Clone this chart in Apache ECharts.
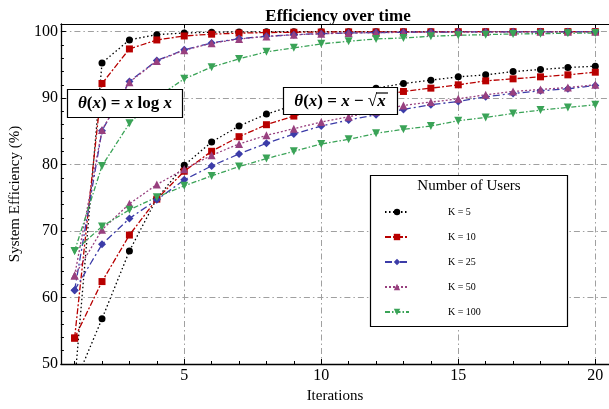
<!DOCTYPE html>
<html><head><meta charset="utf-8">
<script src="https://cdn.jsdelivr.net/npm/echarts@6/dist/echarts.min.js"></script>
<style>html,body{margin:0;padding:0;background:#fff}#c{width:609px;height:409px}</style>
</head><body><div id="c"></div>
<script>
const iterations = [1,2,3,4,5,6,7,8,9,10,11,12,13,14,15,16,17,18,19,20];
const kLabels = ['K = 5','K = 10','K = 25','K = 50','K = 100'];
const xTicks = [5,10,15,20];
const yTicks = [50,60,70,80,90,100];
// theta(x) = x log x
const top5   = [47, 95.3, 98.76, 99.55, 99.8, 99.92, 99.96, 99.98, 99.99, 100, 100, 100, 100, 100, 100, 100, 100, 100, 100, 100];
const top10  = [53.9, 92.2, 97.4, 98.75, 99.35, 99.62, 99.78, 99.86, 99.91, 99.94, 99.96, 99.97, 99.98, 99.98, 99.99, 99.99, 99.99, 100, 100, 100];
const top25  = [61.1, 85.1, 92.5, 95.66, 97.26, 98.3, 98.95, 99.3, 99.55, 99.7, 99.8, 99.86, 99.9, 99.93, 99.95, 99.96, 99.97, 99.98, 99.98, 99.99];
const top50  = [63.3, 85.2, 92.4, 95.6, 97.2, 98.25, 98.9, 99.27, 99.52, 99.68, 99.78, 99.85, 99.89, 99.92, 99.94, 99.96, 99.97, 99.97, 99.98, 99.98];
const top100 = [67.0, 79.8, 86.2, 90.1, 92.9, 94.66, 95.9, 96.96, 97.56, 98.16, 98.55, 98.9, 99.05, 99.3, 99.45, 99.55, 99.65, 99.7, 99.75, 99.8];
// theta(x) = x - sqrt(x)
const bot5   = [47, 56.8, 67.0, 74.9, 79.9, 83.4, 85.8, 87.6, 88.9, 90.0, 90.8, 91.5, 92.2, 92.7, 93.2, 93.5, 94.0, 94.3, 94.6, 94.8];
const bot10  = [53.9, 62.4, 69.4, 74.8, 79.0, 82.0, 84.2, 86.0, 87.3, 88.5, 89.4, 90.3, 91.0, 91.5, 92.0, 92.6, 92.9, 93.2, 93.5, 93.9];
const bot25  = [61.1, 68.0, 71.9, 74.7, 77.7, 79.8, 81.6, 83.2, 84.6, 85.8, 86.7, 87.5, 88.3, 89.0, 89.5, 90.2, 90.7, 91.1, 91.4, 91.9];
const bot50  = [63.3, 70.2, 74.1, 77.0, 79.3, 81.4, 83.1, 84.4, 85.4, 86.4, 87.2, 88.0, 88.9, 89.4, 89.9, 90.5, 91.0, 91.3, 91.6, 92.0];
const bot100 = [67.0, 70.7, 73.2, 75.1, 76.8, 78.3, 79.7, 80.9, 82.0, 83.1, 83.8, 84.7, 85.3, 85.8, 86.6, 87.1, 87.7, 88.2, 88.6, 89.0];

const styles = [
  {color:'#000000', symbol:'circle', size:7, rot:0, dash:[1.5,2.5]},
  {color:'#b80000', symbol:'rect', size:7, rot:0, dash:[6,2,2,2]},
  {color:'#3c3ca8', symbol:'diamond', size:8, rot:0, dash:[7,3,2,3]},
  {color:'#98407f', symbol:'triangle', size:8, rot:0, dash:[2,2]},
  {color:'#3aa357', symbol:'triangle', size:8, rot:180, dash:[5,2,1.5,2]}
];
const groups = [[top5,top10,top25,top50,top100],[bot5,bot10,bot25,bot50,bot100]];
const series = [];
groups.forEach(g => g.forEach((vals, i) => {
  const s = styles[i];
  series.push({
    type:'line', name:kLabels[i], xAxisIndex:0, yAxisIndex:0,
    data: iterations.map((x, j) => [x, vals[j]]),
    symbol:s.symbol, symbolSize:s.size, symbolRotate:s.rot, showSymbol:true,
    lineStyle:{color:s.color, width:1.3, type:s.dash},
    itemStyle:{color:s.color},
    clip:true, animation:false, z:2
  });
}));

const serif = 'Liberation Serif';
const chart = echarts.init(document.getElementById('c'), null, {renderer:'canvas'});
chart.setOption({
  animation:false,
  title:{text:'Efficiency over time', left:333, textAlign:'center', top:3,
    textStyle:{fontFamily:serif, fontWeight:'bold', fontSize:17, color:'#000'}},
  grid:{left:57, right:0, top:24, bottom:43, containLabel:false},
  xAxis:[
    {type:'value', min:0.5, max:20.5, position:'bottom',
     name:'Iterations', nameLocation:'middle', nameGap:25,
     nameTextStyle:{fontFamily:serif, fontSize:15, color:'#000'},
     axisLine:{show:true, lineStyle:{color:'#000', width:1.3}},
     axisTick:{show:true, inside:true, length:5, customValues:xTicks, lineStyle:{color:'#000'}},
     axisLabel:{customValues:xTicks, fontFamily:serif, fontSize:16, color:'#000', margin:4},
     splitLine:{show:true, lineStyle:{color:'#a0a0a0', width:1, type:[6,3,1.5,3]}}},
    {type:'value', min:0.5, max:20.5, position:'top',
     axisLine:{show:true, lineStyle:{color:'#000', width:1}},
     axisTick:{show:true, inside:true, length:4, customValues:xTicks, lineStyle:{color:'#000'}},
     axisLabel:{show:false}, splitLine:{show:false}},
    {type:'value', min:0.5, max:20.5, position:'bottom',
     axisLine:{show:false},
     axisTick:{show:true, inside:true, length:3, customValues:iterations, lineStyle:{color:'#000'}},
     axisLabel:{show:false}, splitLine:{show:false}}
  ],
  yAxis:[
    {type:'value', min:50, max:101.15, interval:10,
     name:'System Efficiency (%)', nameLocation:'middle', nameGap:33,
     nameTextStyle:{fontFamily:serif, fontSize:15, color:'#000'},
     axisLine:{show:true, lineStyle:{color:'#000', width:1.3}},
     axisTick:{show:true, inside:true, length:5, lineStyle:{color:'#000'}},
     minorTick:{show:true, splitNumber:5, length:3, lineStyle:{color:'#000'}},
     axisLabel:{fontFamily:serif, fontSize:16, color:'#000', margin:3,
       formatter: v => (v % 10 === 0 ? String(v) : '')},
     splitLine:{show:true, lineStyle:{color:'#a0a0a0', width:1, type:[6,3,1.5,3]}}}
  ],
  legend:{
    data:kLabels, orient:'vertical', left:379, top:201, itemWidth:24, itemHeight:8, itemGap:13,
    textStyle:{fontFamily:serif, fontSize:10, color:'#000', padding:[0,0,0,34], lineHeight:12},
    selectedMode:false, z:20
  },
  graphic:[
    {type:'rect', shape:{x:370.5, y:175.5, width:197, height:151},
     style:{fill:'#fff', stroke:'#000', lineWidth:1.2}, z:10},
    {type:'text', x:469, y:186, style:{text:'Number of Users', font:'15px "Liberation Serif"', fill:'#000', textAlign:'center', textVerticalAlign:'middle'}, z:11},
    {type:'rect', shape:{x:67.5, y:89.5, width:115, height:28},
     style:{fill:'#fff', stroke:'#000', lineWidth:1.2}, z:10},
    {type:'text', x:125, y:104, z:11,
     style:{rich:{i:{font:'italic bold 17px "Liberation Serif"', fill:'#000'}, n:{font:'bold 17px "Liberation Serif"', fill:'#000'}},
       text:'{i|θ}{n|(}{i|x}{n|) = }{i|x}{n| log }{i|x}', textAlign:'center', textVerticalAlign:'middle'}},
    {type:'rect', shape:{x:283.5, y:87.5, width:114, height:27},
     style:{fill:'#fff', stroke:'#000', lineWidth:1.2}, z:10},
    {type:'text', x:340, y:102, z:11,
     style:{rich:{i:{font:'italic bold 17px "Liberation Serif"', fill:'#000'}, n:{font:'bold 17px "Liberation Serif"', fill:'#000'}},
       text:'{i|θ}{n|(}{i|x}{n|) = }{i|x}{n| − √}{i|x}', textAlign:'center', textVerticalAlign:'middle'}},
    {type:'line', shape:{x1:376, y1:93, x2:388, y2:93}, style:{stroke:'#000', lineWidth:1.2}, z:12}
  ],
  series: series
});
</script></body></html>
